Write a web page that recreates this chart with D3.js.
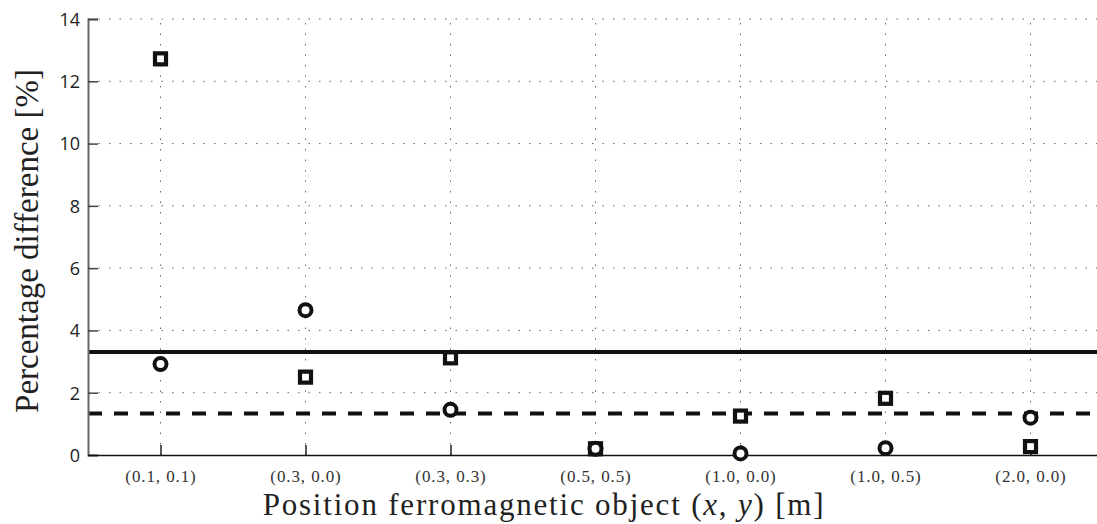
<!DOCTYPE html>
<html>
<head>
<meta charset="utf-8">
<script src="https://cdn.jsdelivr.net/npm/d3@7"></script>
<style>
  body { margin: 0; background: #fff; }
  svg { display: block; }
</style>
</head>
<body>
<svg id="chart"></svg>
<script>
// Chart data
const positions = ["(0.1, 0.1)", "(0.3, 0.0)", "(0.3, 0.3)", "(0.5, 0.5)", "(1.0, 0.0)", "(1.0, 0.5)", "(2.0, 0.0)"];
const squareValues = [12.72, 2.5, 3.12, 0.2, 1.25, 1.82, 0.27];
const circleValues = [2.92, 4.65, 1.45, 0.2, 0.05, 0.22, 1.2];
const solidLevel = 3.31;
const dashedLevel = 1.33;
const yTicks = [0, 2, 4, 6, 8, 10, 12, 14];

const SERIF = "'Liberation Serif', 'Times New Roman', serif";
const SANS = "'Open Sans', 'DejaVu Sans', sans-serif";

const width = 1097, height = 524;
const margin = { left: 88, top: 19, bottom: 69 };
const step = 145;

const svg = d3.select("#chart")
    .attr("width", width)
    .attr("height", height);

// Scales
const x = d3.scalePoint()
    .domain(positions)
    .range([margin.left + step / 2, margin.left + step / 2 + step * (positions.length - 1)]);

const y = d3.scaleLinear()
    .domain([0, 14])
    .range([height - margin.bottom, margin.top]);

const plotRight = width;
const gridColor = "#666";

// Grid lines (dotted)
svg.append("g")
    .selectAll("line")
    .data(yTicks.filter(d => d > 0))
    .join("line")
    .attr("x1", margin.left)
    .attr("x2", plotRight)
    .attr("y1", d => y(d))
    .attr("y2", d => y(d))
    .attr("stroke", gridColor)
    .attr("stroke-width", 1)
    .attr("stroke-dasharray", "1.5,9");

svg.append("g")
    .selectAll("line")
    .data(positions)
    .join("line")
    .attr("x1", d => x(d))
    .attr("x2", d => x(d))
    .attr("y1", y(0))
    .attr("y2", y(14))
    .attr("stroke", gridColor)
    .attr("stroke-width", 1)
    .attr("stroke-dasharray", "1.5,9");

// Reference lines
svg.append("line")
    .attr("x1", margin.left).attr("x2", plotRight)
    .attr("y1", y(solidLevel)).attr("y2", y(solidLevel))
    .attr("stroke", "#111")
    .attr("stroke-width", 4);

svg.append("line")
    .attr("x1", margin.left).attr("x2", plotRight)
    .attr("y1", y(dashedLevel)).attr("y2", y(dashedLevel))
    .attr("stroke", "#111")
    .attr("stroke-width", 4)
    .attr("stroke-dasharray", "14,12");

// Y axis
const yAxis = svg.append("g")
    .attr("transform", `translate(${margin.left},0)`)
    .call(d3.axisLeft(y).tickValues(yTicks).tickSize(-10).tickPadding(8))
    .attr("font-family", SANS);
yAxis.select(".domain").attr("stroke", "#666").attr("stroke-width", 2);
yAxis.selectAll(".tick line").attr("stroke", "#444").attr("stroke-width", 1.5);
yAxis.selectAll(".tick text")
    .attr("font-family", SANS)
    .attr("font-size", 18)
    .attr("fill", "#222")
    .attr("dy", "0.35em");

// X axis
const xAxis = svg.append("g")
    .attr("transform", `translate(0,${y(0)})`)
    .call(d3.axisBottom(x).tickSize(-10).tickPadding(15))
    .attr("font-family", SERIF);
xAxis.select(".domain")
    .attr("d", `M${margin.left},0.5H${plotRight}`)
    .attr("stroke", "#111").attr("stroke-width", 1.5);
xAxis.selectAll(".tick line").attr("stroke", "#222").attr("stroke-width", 1.5);
xAxis.selectAll(".tick text")
    .attr("font-family", SERIF)
    .attr("font-size", 17)
    .attr("letter-spacing", 0.9)
    .attr("fill", "#333");

// Markers: squares
svg.append("g")
    .selectAll("rect")
    .data(squareValues)
    .join("rect")
    .attr("x", (d, i) => x(positions[i]) - 5.5)
    .attr("y", d => y(d) - 5.5)
    .attr("width", 11)
    .attr("height", 11)
    .attr("fill", "#fff")
    .attr("stroke", "#111")
    .attr("stroke-width", 4.2);

// Markers: circles
svg.append("g")
    .selectAll("circle")
    .data(circleValues)
    .join("circle")
    .attr("cx", (d, i) => x(positions[i]))
    .attr("cy", d => y(d))
    .attr("r", 6)
    .attr("fill", "#fff")
    .attr("stroke", "#111")
    .attr("stroke-width", 4);

// Axis labels
svg.append("text")
    .attr("transform", `translate(38,${(y(0) + y(14)) / 2 + 4}) rotate(-90)`)
    .attr("text-anchor", "middle")
    .attr("font-family", SERIF)
    .attr("font-size", 33)
    .attr("fill", "#222")
    .text("Percentage difference [%]");

const xl = svg.append("text")
    .attr("x", 544)
    .attr("y", 515)
    .attr("text-anchor", "middle")
    .attr("font-family", SERIF)
    .attr("font-size", 31)
    .attr("letter-spacing", 1.8)
    .attr("fill", "#222");
xl.append("tspan").text("Position ferromagnetic object (");
xl.append("tspan").attr("font-style", "italic").text("x");
xl.append("tspan").text(", ");
xl.append("tspan").attr("font-style", "italic").text("y");
xl.append("tspan").text(") [m]");
</script>
</body>
</html>
